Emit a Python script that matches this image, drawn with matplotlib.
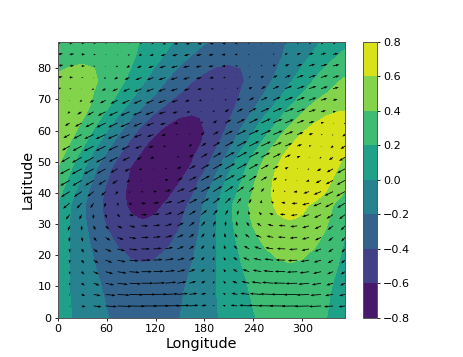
import numpy as np
import matplotlib
matplotlib.use("Agg")
import matplotlib.pyplot as plt

field_lons = [0,15,30,45,60,75,90,105,120,135,150,165,180,195,210,225,240,255,270,285,300,315,330,345,352.5]
field_lats = [0,4,8,12,16,20,24,28,32,36,40,44,48,52,56,60,64,68,72,76,80,84,88.4]
field = [
[.08,.01,-.06,-.13,-.19,-.24,-.27,-.28,-.27,-.25,-.20,-.15,-.08,-.01,.06,.13,.19,.24,.27,.28,.27,.25,.20,.15,.12],
[.08,.005,-.07,-.14,-.205,-.255,-.285,-.295,-.285,-.26,-.21,-.15,-.08,-.005,.07,.14,.205,.255,.285,.295,.285,.26,.21,.15,.12],
[.08,0,-.08,-.155,-.22,-.27,-.30,-.31,-.30,-.27,-.22,-.155,-.08,0,.08,.155,.22,.27,.30,.31,.30,.27,.22,.155,.12],
[.09,0,-.09,-.17,-.24,-.30,-.33,-.345,-.33,-.30,-.24,-.17,-.09,0,.09,.17,.24,.30,.33,.345,.33,.30,.24,.17,.13],
[.10,0,-.10,-.19,-.27,-.33,-.37,-.38,-.37,-.33,-.27,-.19,-.10,0,.10,.19,.27,.33,.37,.38,.37,.33,.27,.19,.145],
[.11,0,-.11,-.215,-.30,-.37,-.415,-.43,-.415,-.37,-.30,-.215,-.11,0,.11,.215,.30,.37,.415,.43,.415,.37,.30,.215,.165],
[.127,0,-.127,-.245,-.346,-.424,-.473,-.49,-.473,-.424,-.346,-.245,-.127,0,.127,.245,.346,.424,.473,.49,.473,.424,.346,.245,.188],
[.14,0,-.14,-.275,-.39,-.475,-.53,-.55,-.53,-.475,-.39,-.275,-.14,0,.14,.275,.39,.475,.53,.55,.53,.475,.39,.275,.21],
[.158,0,-.158,-.305,-.431,-.528,-.589,-.61,-.589,-.528,-.431,-.305,-.158,0,.158,.305,.431,.528,.589,.61,.589,.528,.431,.305,.233],
[.18,.011,-.157,-.315,-.45,-.557,-.625,-.65,-.63,-.575,-.48,-.345,-.18,-.011,.157,.315,.45,.557,.625,.65,.63,.569,.468,.335,.26],
[.26,.08,-.11,-.288,-.437,-.557,-.639,-.677,-.675,-.63,-.55,-.42,-.25,-.059,.10,.25,.413,.552,.652,.709,.717,.677,.59,.463,.387],
[.33,.16,-.03,-.228,-.391,-.528,-.629,-.687,-.70,-.675,-.61,-.49,-.33,-.15,.05,.194,.375,.53,.65,.725,.75,.725,.65,.53,.457],
[.40,.23,.04,-.162,-.338,-.491,-.611,-.688,-.72,-.71,-.66,-.58,-.43,-.24,-.04,.119,.309,.478,.615,.71,.756,.751,.694,.59,.523],
[.47,.32,.14,-.05,-.231,-.397,-.536,-.638,-.70,-.72,-.70,-.62,-.52,-.35,-.15,.05,.21,.391,.547,.665,.737,.76,.73,.651,.595],
[.53,.40,.251,.073,-.11,-.285,-.44,-.566,-.654,-.70,-.70,-.66,-.58,-.44,-.26,-.073,.09,.265,.435,.575,.676,.731,.736,.691,.65],
[.57,.47,.34,.18,.012,-.162,-.325,-.466,-.574,-.644,-.67,-.65,-.60,-.50,-.35,-.185,-.012,.134,.307,.459,.58,.662,.698,.687,.664],
[.59,.52,.415,.281,.129,-.032,-.192,-.338,-.461,-.552,-.606,-.619,-.59,-.52,-.415,-.281,-.129,.032,.166,.32,.453,.554,.618,.64,.634],
[.55,.53,.467,.366,.24,.10,-.048,-.19,-.319,-.425,-.503,-.547,-.553,-.522,-.455,-.357,-.235,-.097,.05,.195,.327,.437,.516,.561,.57],
[.496,.495,.46,.394,.301,.187,.061,-.07,-.195,-.308,-.399,-.464,-.496,-.495,-.46,-.394,-.301,-.187,-.061,.07,.195,.308,.399,.464,.484],
[.447,.469,.46,.419,.349,.256,.145,.024,-.098,-.213,-.314,-.394,-.447,-.469,-.46,-.419,-.349,-.256,-.145,-.024,.098,.213,.314,.394,.424],
[.37,.41,.42,.40,.356,.287,.197,.095,-.015,-.123,-.223,-.307,-.371,-.41,-.42,-.40,-.356,-.287,-.197,-.095,.015,.123,.223,.307,.342],
[.276,.326,.355,.359,.338,.295,.231,.152,.063,-.031,-.123,-.207,-.276,-.326,-.355,-.359,-.338,-.295,-.231,-.152,-.063,.031,.123,.207,.243],
[.185,.24,.278,.298,.297,.276,.236,.181,.112,.037,-.042,-.117,-.185,-.24,-.278,-.298,-.297,-.276,-.236,-.181,-.112,-.037,.042,.117,.152],
]

wind_lons = [0,14.7,29.4,44.1,58.8,73.4,88.1,102.8,117.5,132.2,146.9,161.6,176.3,190.9,205.6,220.3,235,249.7,264.4,279.1,293.8,308.4,323.1,337.8,352.5]
wind_lats = [3.7,7.4,11.0,14.7,18.4,22.0,25.7,29.4,33.0,36.7,40.4,44.0,47.7,51.4,55.0,58.7,62.4,66.0,69.7,73.4,77.0,80.7,84.4,88.0]
wind_u = [
[-4.2,0,4.2,8,11.3,13.9,15.5,16,15.7,14.6,12.3,9.1,5.4,1.4,-2.7,-6.7,-10.2,-13.1,-15,-16,-15.7,-14.6,-12.3,-9.1,-6.7],
[-3.6,0,3.6,7,9.9,12.2,13.6,14,13.7,12.7,10.8,8,4.8,1.3,-2.4,-5.9,-9,-11.5,-13.2,-14,-13.7,-12.7,-10.8,-8,-5.9],
[-3.1,0,3.1,6,8.5,10.4,11.6,12,11.8,10.9,9.2,6.8,4.1,1.1,-2,-5,-7.7,-9.8,-11.3,-12,-11.8,-10.9,-9.2,-6.8,-5],
[-2.7,0,2.7,5.3,7.5,9.1,10.2,10.5,10.3,9.6,8.1,6,3.6,.9,-1.8,-4.4,-6.7,-8.6,-9.9,-10.5,-10.3,-9.6,-8.1,-6,-4.4],
[-2.5,0,2.5,4.8,6.7,8.3,9.2,9.5,9.3,8.6,7.3,5.4,3.2,.9,-1.6,-4,-6.1,-7.8,-8.9,-9.5,-9.3,-8.6,-7.3,-5.4,-4],
[-2.2,0,2.2,4.3,6,7.4,8.2,8.5,8.3,7.7,6.5,4.8,2.9,.8,-1.4,-3.6,-5.4,-7,-8,-8.5,-8.3,-7.7,-6.5,-4.8,-3.6],
[-2.6,-.7,1.3,3.2,4.8,6.2,7.1,7.5,7.5,7.1,6.2,4.8,3.2,1.3,-.7,-2.6,-4.3,-5.8,-6.8,-7.4,-7.5,-7.1,-6.2,-4.8,-3.8],
[-3.5,-1.8,0,1.8,3.5,5,6.1,6.8,7,6.9,6.4,5.4,4,2.4,.6,-1.2,-2.9,-4.5,-5.7,-6.6,-7,-6.9,-6.4,-5.4,-4.3],
[-5.4,-4,-2.4,-.6,1.2,2.9,4.5,5.7,6.4,6.9,7,6.6,5.7,4.5,2.9,1.2,-.6,-2.4,-4,-5.4,-6.4,-6.9,-7,-6.6,-6],
[-7.5,-6.6,-5.1,-3.4,-1.4,.7,2.7,4.6,5.7,7,7.8,8,7.8,7,5.7,4,2.1,0,-2.1,-4,-5.7,-7,-7.8,-8,-7.8],
[-9,-8.7,-7.8,-6.4,-4.5,-2.3,0,2.3,3.8,5.8,7.4,8.5,9,8.8,8.2,6.9,5.1,3.1,.8,-1.5,-3.8,-5.8,-7.4,-8.5,-8.9],
[-8.9,-9.5,-9.3,-8.6,-7.3,-5.4,-3.2,-.9,.9,3.2,5.4,7.3,8.6,9.3,9.5,8.9,7.8,6.1,4,1.6,-.9,-3.2,-5.4,-7.3,-8.4],
[-8.7,-9.7,-10,-9.7,-8.7,-7.1,-5,-2.6,-.9,1.7,4.2,6.4,8.2,9.4,10,9.8,9.1,7.7,5.7,3.4,.9,-1.7,-4.2,-6.4,-7.9],
[-7.1,-8.7,-9.7,-10,-9.7,-8.7,-7.1,-5,-3.4,-.9,1.7,4.2,6.4,8.2,9.4,10,9.8,9.1,7.7,5.7,3.4,.9,-1.7,-4.2,-6],
[-5.7,-7.7,-9.1,-9.8,-10,-9.4,-8.2,-6.4,-5,-2.6,0,2.6,5,7.1,8.7,9.7,10,9.7,8.7,7.1,5,2.6,0,-2.6,-4.5],
[-4.2,-6.4,-8.2,-9.4,-10,-9.8,-9.1,-7.7,-6.4,-4.2,-1.7,.9,3.4,5.7,7.7,9.1,9.8,10,9.4,8.2,6.4,4.2,1.7,-.9,-2.9],
[-2.5,-4.8,-6.7,-8.3,-9.2,-9.5,-9.2,-8.3,-7.3,-5.4,-3.2,-.9,1.6,4,6.1,7.8,8.9,9.5,9.3,8.6,7.3,5.4,3.2,.9,-1.1],
[0,-2.3,-4.5,-6.4,-7.8,-8.7,-9,-8.7,-8.2,-6.9,-5.1,-3.1,-.8,1.5,3.8,5.8,7.4,8.5,9,8.8,8.2,6.9,5.1,3.1,1.3],
[2.1,0,-2.1,-4,-5.7,-7,-7.8,-8,-7.8,-7.3,-6.2,-4.6,-2.7,-.7,1.4,3.4,5.1,6.6,7.5,8,7.8,7.3,6.2,4.6,3.1],
[3.8,2,0,-2,-3.8,-5.3,-6.5,-7.3,-7.5,-7.4,-6.8,-5.8,-4.3,-2.6,-.7,1.3,3.2,4.8,6.2,7.1,7.5,7.4,6.8,5.8,4.7],
[5,3.5,1.8,0,-1.8,-3.5,-5,-6.1,-6.6,-7,-6.9,-6.4,-5.4,-4,-2.4,-.6,1.2,2.9,4.5,5.7,6.6,7,6.9,6.4,5.6],
[5.7,4.6,3.3,1.7,0,-1.7,-3.3,-4.6,-5.3,-6.1,-6.5,-6.4,-5.9,-5,-3.7,-2.2,-.6,1.1,2.7,4.2,5.3,6.1,6.5,6.4,6],
[5.2,4.5,3.5,2.3,.9,-.5,-1.9,-3.1,-3.9,-4.8,-5.3,-5.5,-5.3,-4.8,-3.9,-2.8,-1.4,0,1.4,2.8,3.9,4.8,5.3,5.5,5.4],
[3.9,3.6,3.1,2.3,1.4,.4,-.7,-1.7,-2.3,-3.1,-3.6,-3.9,-4,-3.8,-3.3,-2.6,-1.7,-.7,.4,1.4,2.3,3.1,3.6,3.9,4],
]
wind_v = [
[-1,-1,-1,-.9,-.7,-.5,-.3,0,.2,.4,.6,.8,.9,1,1,.9,.8,.6,.3,.1,-.2,-.4,-.6,-.8,-.9],
[-1.5,-1.5,-1.5,-1.3,-1.1,-.8,-.4,0,.3,.6,1,1.2,1.4,1.5,1.5,1.4,1.2,.9,.5,.1,-.3,-.6,-1,-1.2,-1.4],
[-2.4,-2.5,-2.4,-2.2,-1.8,-1.3,-.7,0,.4,1.1,1.6,2,2.4,2.5,2.5,2.3,1.9,1.4,.9,.2,-.4,-1.1,-1.6,-2,-2.3],
[-2.9,-3,-2.9,-2.6,-2.1,-1.5,-.8,0,.5,1.3,1.9,2.5,2.8,3,2.9,2.7,2.3,1.7,1,.3,-.5,-1.3,-1.9,-2.5,-2.8],
[-3.4,-3.5,-3.4,-3,-2.5,-1.8,-.9,0,.6,1.5,2.2,2.9,3.3,3.5,3.4,3.2,2.7,2,1.2,.3,-.6,-1.5,-2.2,-2.9,-3.2],
[-3.9,-4,-3.9,-3.5,-2.8,-2,-1,0,.7,1.7,2.6,3.3,3.8,4,3.9,3.6,3.1,2.3,1.4,.4,-.7,-1.7,-2.6,-3.3,-3.7],
[-4.4,-4.5,-4.4,-3.9,-3.2,-2.3,-1.2,0,.8,1.9,2.9,3.7,4.2,4.5,4.4,4.1,3.5,2.6,1.5,.4,-.8,-1.9,-2.9,-3.7,-4.1],
[-4.9,-5,-4.9,-4.4,-3.6,-2.5,-1.3,0,.9,2.1,3.2,4.1,4.7,5,4.9,4.6,3.9,2.9,1.7,.5,-.9,-2.1,-3.2,-4.1,-4.6],
[-4.9,-5,-4.9,-4.4,-3.6,-2.5,-1.3,0,.9,2.1,3.2,4.1,4.7,5,4.9,4.6,3.9,2.9,1.7,.5,-.9,-2.1,-3.2,-4.1,-4.6],
[-5.2,-5.5,-5.4,-5,-4.2,-3.1,-1.9,-.5,.5,1.9,3.1,4.2,5,5.4,5.5,5.2,4.5,3.5,2.3,.9,-.5,-1.9,-3.1,-4.2,-4.8],
[-5.2,-5.5,-5.4,-5,-4.2,-3.1,-1.9,-.5,.5,1.9,3.1,4.2,5,5.4,5.5,5.2,4.5,3.5,2.3,.9,-.5,-1.9,-3.1,-4.2,-4.8],
[-5,-5.4,-5.5,-5.2,-4.5,-3.5,-2.3,-.9,0,1.4,2.8,3.9,4.8,5.3,5.5,5.3,4.8,3.9,2.8,1.4,0,-1.4,-2.8,-3.9,-4.6],
[-4.8,-5.3,-5.5,-5.3,-4.8,-3.9,-2.8,-1.4,-.5,.9,2.3,3.5,4.5,5.2,5.5,5.4,5,4.2,3.1,1.9,.5,-.9,-2.3,-3.5,-4.3],
[-4.2,-5,-5.4,-5.5,-5.2,-4.5,-3.5,-2.3,-1.4,0,1.4,2.8,3.9,4.8,5.3,5.5,5.3,4.8,3.9,2.8,1.4,0,-1.4,-2.8,-3.7],
[-3.6,-4.4,-4.9,-5,-4.9,-4.4,-3.6,-2.5,-1.7,-.5,.9,2.1,3.2,4.1,4.7,5,4.9,4.6,3.9,2.9,1.7,.5,-.9,-2.1,-3],
[-2.6,-3.5,-4.1,-4.4,-4.5,-4.2,-3.7,-2.9,-2.3,-1.2,0,1.2,2.3,3.2,3.9,4.4,4.5,4.4,3.9,3.2,2.3,1.2,0,-1.2,-2],
[-1.9,-2.9,-3.7,-4.2,-4.5,-4.4,-4.1,-3.5,-2.9,-1.9,-.8,.4,1.5,2.6,3.5,4.1,4.4,4.5,4.2,3.7,2.9,1.9,.8,-.4,-1.3],
[-1,-2,-2.8,-3.5,-3.9,-4,-3.9,-3.5,-3.1,-2.3,-1.4,-.4,.7,1.7,2.6,3.3,3.8,4,3.9,3.6,3.1,2.3,1.4,.4,-.5],
[0,-.9,-1.8,-2.5,-3,-3.4,-3.5,-3.4,-3.2,-2.7,-2,-1.2,-.3,.6,1.5,2.2,2.9,3.3,3.5,3.4,3.2,2.7,2,1.2,.5],
[.8,0,-.8,-1.5,-2.1,-2.6,-2.9,-3,-2.9,-2.7,-2.3,-1.7,-1,-.3,.5,1.3,1.9,2.5,2.8,3,2.9,2.7,2.3,1.7,1.2],
[1,.4,-.2,-.9,-1.4,-1.9,-2.3,-2.5,-2.5,-2.4,-2.2,-1.8,-1.3,-.7,0,.7,1.3,1.8,2.2,2.4,2.5,2.4,2.2,1.8,1.4],
[1,.5,0,-.5,-1,-1.4,-1.7,-1.9,-2,-2,-1.8,-1.5,-1.1,-.7,-.2,.3,.8,1.3,1.6,1.9,2,2,1.8,1.5,1.2],
[1,.6,.3,-.1,-.5,-.9,-1.2,-1.4,-1.5,-1.5,-1.5,-1.3,-1.1,-.8,-.4,0,.4,.8,1.1,1.3,1.5,1.5,1.5,1.3,1.1],
[.8,.6,.3,.1,-.2,-.4,-.6,-.8,-.9,-1,-1,-.9,-.8,-.6,-.4,-.2,.1,.3,.6,.8,.9,1,1,.9,.8],
]
levels = [-0.8,-0.6,-0.4,-0.2,0.0,0.2,0.4,0.6,0.8]
lon_ticks = [0,60,120,180,240,300]
lat_ticks = [0,10,20,30,40,50,60,70,80]

W, H = 463, 357
fig = plt.figure(figsize=(W/100, H/100), dpi=100)
ax = fig.add_axes([57.7/W, 1-317.5/H, (345.0-57.7)/W, (317.5-42)/H])
cf = ax.contourf(field_lons, field_lats, np.array(field), levels=levels, cmap="viridis")
ax.quiver(wind_lons, wind_lats, np.array(wind_u), np.array(wind_v),
          angles="uv", scale_units="dots", scale=1, units="dots",
          width=0.8, headwidth=3.2, headlength=4.5, headaxislength=4, color="black")
ax.set_xlim(0, 352.5)
ax.set_ylim(0, 88.4)
ax.set_xticks(lon_ticks)
ax.set_yticks(lat_ticks)
ax.tick_params(labelsize=8, length=2.5, width=0.6, pad=2)
ax.set_xlabel("Longitude", fontsize=10.4, labelpad=2)
ax.set_ylabel("Latitude", fontsize=10.4, labelpad=2)
for s in ax.spines.values():
    s.set_linewidth(0.7)
    s.set_color("#555555")

cax = fig.add_axes([363/W, 1-317.5/H, 14/W, (317.5-42)/H])
cb = fig.colorbar(cf, cax=cax, ticks=levels)
cb.ax.tick_params(labelsize=8, length=2.5, width=0.6, pad=2)
cb.outline.set_linewidth(0.7)
cb.outline.set_edgecolor("#555555")
fig.savefig("out.png", dpi=100)
